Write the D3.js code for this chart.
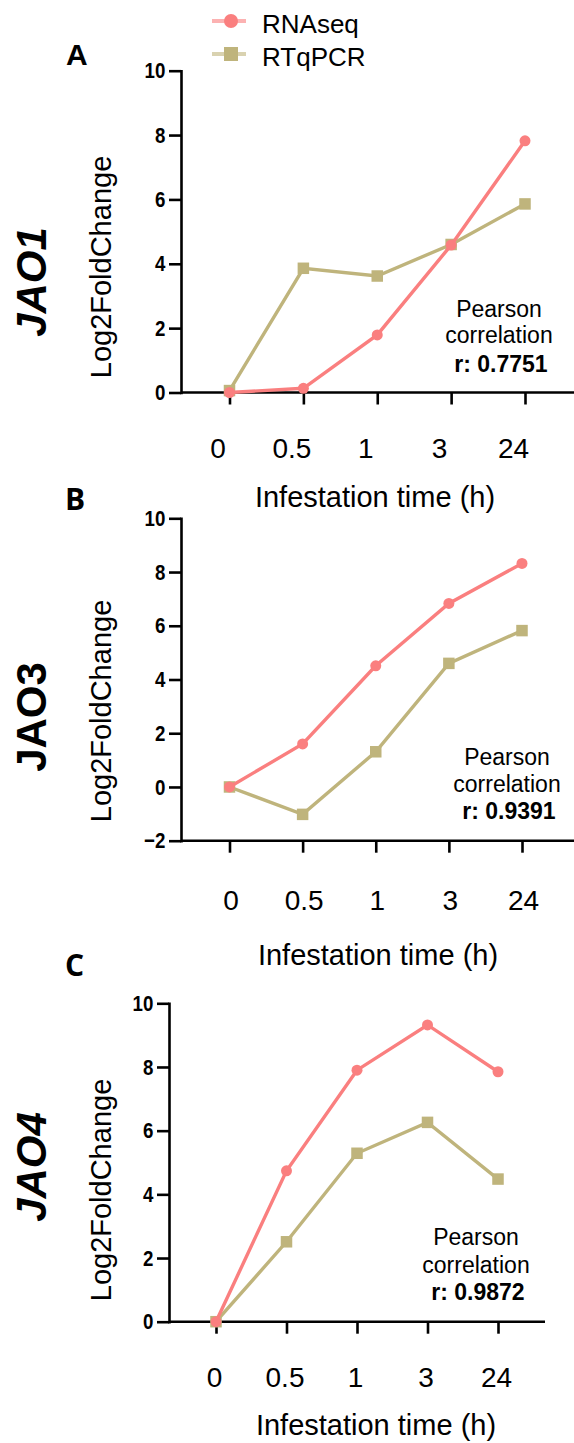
<!DOCTYPE html>
<html lang="en">
<head>
<meta charset="UTF-8">
<title>JAO expression: RNAseq vs RTqPCR</title>
<script src="https://d3js.org/d3.v7.min.js"></script>
<style>
  body { margin: 0; background: #fff; }
  svg text { font-family: "Liberation Sans", Arial, sans-serif; fill: #000; }
  svg .ytick text { font-weight: bold; font-size: 22px; }
  svg .xtick text { font-size: 28px; }
  svg text.letter { font-family: "Open Sans", "Noto Sans", sans-serif; }
  .axis line, .axis path { stroke: #000; stroke-width: 2.6px; }
</style>
</head>
<body>
<svg id="chart" width="574" height="1443"></svg>
<script>
// data
const times = ["0", "0.5", "1", "3", "24"];
const genes = ["JAO1", "JAO3", "JAO4"];
const panelLetters = ["A", "B", "C"];
const seriesNames = ["RNAseq", "RTqPCR"];
const rnaseqJAO1 = [0, 0.13, 1.79, 4.58, 7.82];
const rtqpcrJAO1 = [0.06, 3.86, 3.62, 4.6, 5.86];
const rnaseqJAO3 = [0, 1.6, 4.51, 6.83, 8.32];
const rtqpcrJAO3 = [0, -1.02, 1.31, 4.6, 5.82];
const rnaseqJAO4 = [0, 4.74, 7.9, 9.32, 7.85];
const rtqpcrJAO4 = [0, 2.51, 5.29, 6.26, 4.48];
const pearsonR = ["0.7751", "0.9391", "0.9872"];
const yTicksJAO1 = [0, 2, 4, 6, 8, 10];
const yTicksJAO3 = [-2, 0, 2, 4, 6, 8, 10];
const yTicksJAO4 = [0, 2, 4, 6, 8, 10];

const colors = { RNAseq: "#fa7f7f", RTqPCR: "#bfb47c" };

// layout of each panel (pixels)
const panels = [
  { gene: genes[0], letter: panelLetters[0], rna: rnaseqJAO1, rtq: rtqpcrJAO1, r: pearsonR[0], ticks: yTicksJAO1,
    axisX: 181, xRange: [229.5, 525], xEnd: 574, yRange: [392.5, 70.7], labelDx: -12, labelDy: 65,
    titleX: 375, titleY: 507, ylabY: 267, geneY: 282, italic: true,
    letterX: 66, letterY: 65, letterCls: "",
    pearsonX: 499, pearsonY: [317, 343, 372] },
  { gene: genes[1], letter: panelLetters[1], rna: rnaseqJAO3, rtq: rtqpcrJAO3, r: pearsonR[1], ticks: yTicksJAO3,
    axisX: 181, xRange: [229.5, 522], xEnd: 574, yRange: [840.7, 518.3], labelDx: 1, labelDy: 69,
    titleX: 378, titleY: 965, ylabY: 711, geneY: 717, italic: false,
    letterX: 65, letterY: 510, letterCls: "letter",
    pearsonX: 507, pearsonY: [765, 792, 819] },
  { gene: genes[2], letter: panelLetters[2], rna: rnaseqJAO4, rtq: rtqpcrJAO4, r: pearsonR[2], ticks: yTicksJAO4,
    axisX: 169, xRange: [216, 498], xEnd: 545, yRange: [1321.7, 1003.3], labelDx: -2, labelDy: 65.5,
    titleX: 376, titleY: 1435, ylabY: 1190, geneY: 1167, italic: true,
    letterX: 65, letterY: 976, letterCls: "letter",
    pearsonX: 476, pearsonY: [1245, 1273, 1300] }
];

const svg = d3.select("#chart");

function drawMarker(sel, name, x, y, size) {
  if (name === "RNAseq") {
    sel.append("circle").attr("cx", x).attr("cy", y).attr("r", size / 2)
      .attr("fill", colors[name]);
  } else {
    sel.append("rect").attr("x", x - size / 2).attr("y", y - size / 2)
      .attr("width", size).attr("height", size).attr("fill", colors[name]);
  }
}

panels.forEach(p => {
  const g = svg.append("g");
  const ext = d3.extent(p.ticks);
  const x = d3.scalePoint().domain(times).range(p.xRange);
  const y = d3.scaleLinear().domain(ext).range(p.yRange);

  // y axis (condensed bold numbers)
  const yAxis = g.append("g")
    .attr("class", "axis ytick")
    .attr("transform", `translate(${p.axisX},0)`)
    .call(d3.axisLeft(y).tickValues(p.ticks).tickSize(12).tickSizeOuter(0));
  yAxis.selectAll("text")
    .attr("x", -18.5)
    .attr("transform", "scale(0.85,1)");
  yAxis.select(".domain").attr("stroke-linecap", "square");

  // x axis: baseline runs from y axis to the panel's right end
  const xAxis = g.append("g")
    .attr("class", "axis xtick")
    .attr("transform", `translate(0,${y(0 > ext[0] ? ext[0] : 0)})`)
    .call(d3.axisBottom(x).tickSize(12).tickSizeOuter(0));
  xAxis.select(".domain").remove();
  xAxis.append("line")
    .attr("x1", p.axisX).attr("x2", p.xEnd).attr("y1", 0).attr("y2", 0);
  xAxis.selectAll("text")
    .attr("dy", null)
    .attr("y", p.labelDy)
    .attr("dx", p.labelDx);

  // series
  const line = d3.line().x((d, i) => x(times[i])).y(d => y(d));
  [["RTqPCR", p.rtq], ["RNAseq", p.rna]].forEach(([name, vals]) => {
    g.append("path").datum(vals)
      .attr("d", line)
      .attr("fill", "none")
      .attr("stroke", colors[name])
      .attr("stroke-width", 3.4);
    vals.forEach((v, i) => drawMarker(g, name, x(times[i]), y(v), name === "RNAseq" ? 11 : 11.5));
  });

  // axis titles
  g.append("text")
    .attr("x", p.titleX).attr("y", p.titleY)
    .attr("text-anchor", "middle")
    .attr("font-size", 29)
    .text("Infestation time (h)");

  g.append("text")
    .attr("transform", `translate(111,${p.ylabY}) rotate(-90)`)
    .attr("text-anchor", "middle")
    .attr("font-size", 29)
    .text("Log2FoldChange");

  g.append("text")
    .attr("transform", `translate(46,${p.geneY}) rotate(-90)`)
    .attr("text-anchor", "middle")
    .attr("font-size", 42)
    .attr("font-weight", "bold")
    .attr("font-style", p.italic ? "italic" : "normal")
    .text(p.gene);

  g.append("text")
    .attr("class", p.letterCls)
    .attr("x", p.letterX).attr("y", p.letterY)
    .attr("font-size", 30)
    .attr("font-weight", "bold")
    .text(p.letter);

  // Pearson annotation
  const ann = g.append("g").attr("text-anchor", "middle").attr("font-size", 23);
  ann.append("text").attr("x", p.pearsonX).attr("y", p.pearsonY[0]).text("Pearson");
  ann.append("text").attr("x", p.pearsonX).attr("y", p.pearsonY[1]).text("correlation");
  ann.append("text").attr("x", p.pearsonX + 2).attr("y", p.pearsonY[2])
    .attr("font-weight", "bold").text("r: " + p.r);
});

// legend
const legendY = [21, 54];
const legend = svg.append("g");
seriesNames.forEach((name, i) => {
  legend.append("line")
    .attr("x1", 212).attr("x2", 246)
    .attr("y1", legendY[i]).attr("y2", legendY[i])
    .attr("stroke", colors[name]).attr("stroke-width", 4)
    .attr("stroke-opacity", 0.6);
  drawMarker(legend, name, 231, legendY[i], 14);
  legend.append("text")
    .attr("x", 262).attr("y", legendY[i] + 12)
    .attr("font-size", 26)
    .text(name);
});
</script>
</body>
</html>
